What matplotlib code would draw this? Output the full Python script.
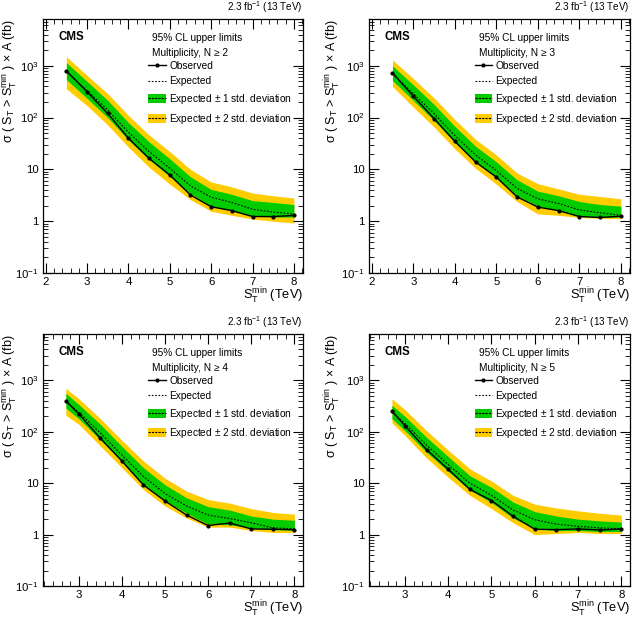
import matplotlib
matplotlib.use("Agg")
import matplotlib.pyplot as plt
import numpy as np
from matplotlib.ticker import FixedLocator, MultipleLocator, LogLocator, NullFormatter
from matplotlib.lines import Line2D
from matplotlib.patches import Patch

# ---------------- data ----------------
x_lo = [2.5, 3, 3.5, 4, 4.5, 5, 5.5, 6, 6.5, 7, 7.5, 8]
x_hi = [2.7, 3, 3.5, 4, 4.5, 5, 5.5, 6, 6.5, 7, 7.5, 8]

labels_n = ["Multiplicity, N ≥ 2", "Multiplicity, N ≥ 3",
            "Multiplicity, N ≥ 4", "Multiplicity, N ≥ 5"]

obs_n2 = [800, 315, 120, 40, 16.3, 7.8, 3.2, 1.9, 1.6, 1.23, 1.23, 1.29]
exp_n2 = [760, 330, 140, 52, 22, 10.5, 4.8, 2.9, 2.3, 1.7, 1.5, 1.37]
p1_n2 = [1150, 500, 215, 80, 34, 16, 7.2, 4.1, 3.3, 2.5, 2.3, 2.1]
m1_n2 = [540, 235, 100, 37, 15.5, 7.3, 3.4, 1.95, 1.6, 1.25, 1.2, 1.2]
p2_n2 = [1500, 650, 290, 110, 46, 22, 10, 5.7, 4.6, 3.5, 3.1, 2.8]
m2_n2 = [360, 170, 72, 27, 11, 5.2, 2.6, 1.55, 1.3, 1.1, 1.0, 0.92]

obs_n3 = [730, 260, 96, 35, 13.9, 7.1, 2.95, 1.87, 1.6, 1.23, 1.18, 1.25]
exp_n3 = [700, 290, 120, 45, 19, 9.5, 4.3, 2.7, 2.2, 1.65, 1.45, 1.3]
p1_n3 = [1000, 430, 180, 68, 28, 14, 6.3, 3.8, 3.1, 2.4, 2.1, 1.95]
m1_n3 = [520, 215, 88, 33, 14, 7, 3.1, 1.95, 1.6, 1.25, 1.18, 1.2]
p2_n3 = [1300, 570, 240, 92, 38, 19, 8.5, 5.3, 4.2, 3.3, 3.0, 2.7]
m2_n3 = [400, 160, 66, 25, 10.5, 5.2, 2.4, 1.38, 1.3, 1.18, 1.13, 1.12]

obs_n4 = [400, 223, 75, 27, 9.2, 4.5, 2.4, 1.5, 1.68, 1.29, 1.27, 1.25]
exp_n4 = [390, 240, 95, 35, 13.5, 6.3, 3.6, 2.4, 2.05, 1.7, 1.35, 1.3]
p1_n4 = [560, 340, 140, 52, 20, 9.3, 5.2, 3.5, 3.0, 2.3, 2.0, 1.9]
m1_n4 = [290, 180, 70, 26, 9.5, 4.6, 2.6, 1.6, 1.55, 1.35, 1.25, 1.2]
p2_n4 = [700, 440, 180, 68, 27, 12.5, 7, 4.8, 4.1, 3.2, 2.7, 2.5]
m2_n4 = [210, 140, 53, 20, 7.5, 3.6, 2.1, 1.4, 1.4, 1.2, 1.1, 1.1]

obs_n5 = [255, 131, 45, 18.7, 7.6, 4.6, 2.27, 1.27, 1.25, 1.29, 1.23, 1.28]
exp_n5 = [240, 145, 55, 23, 10, 5.8, 3.0, 1.95, 1.6, 1.45, 1.35, 1.3]
p1_n5 = [330, 200, 78, 33, 14, 8.3, 4.3, 2.8, 2.3, 2.0, 1.85, 1.75]
m1_n5 = [180, 105, 40, 17, 7.3, 4.2, 2.1, 1.3, 1.2, 1.2, 1.15, 1.15]
p2_n5 = [440, 270, 105, 44, 19, 11, 5.8, 3.9, 3.3, 2.9, 2.6, 2.4]
m2_n5 = [150, 85, 31, 13, 5.8, 3.2, 1.7, 1.0, 1.05, 1.1, 1.05, 1.05]

ytick_vals = [0.1, 1, 10, 100, 1000]
ytick_labels = ["$10^{-1}$", "1", "10", "$10^{2}$", "$10^{3}$"]

panels = [
    (x_lo, obs_n2, exp_n2, p1_n2, m1_n2, p2_n2, m2_n2, labels_n[0], (1.935, 8.22), [2, 3, 4, 5, 6, 7, 8]),
    (x_lo, obs_n3, exp_n3, p1_n3, m1_n3, p2_n3, m2_n3, labels_n[1], (1.935, 8.22), [2, 3, 4, 5, 6, 7, 8]),
    (x_hi, obs_n4, exp_n4, p1_n4, m1_n4, p2_n4, m2_n4, labels_n[2], (2.17, 8.2), [3, 4, 5, 6, 7, 8]),
    (x_hi, obs_n5, exp_n5, p1_n5, m1_n5, p2_n5, m2_n5, labels_n[3], (2.17, 8.2), [3, 4, 5, 6, 7, 8]),
]

# ---------------- figure ----------------
W, H = 639, 625
plt.rcParams['font.family'] = ['Liberation Sans', 'DejaVu Sans']
plt.rcParams['mathtext.fontset'] = 'custom'
plt.rcParams['mathtext.rm'] = 'Liberation Sans'
plt.rcParams['mathtext.it'] = 'Liberation Sans:italic'
fig = plt.figure(figsize=(W / 100, H / 100), dpi=100)

# axes rectangles in pixels: (left, top, right, bottom)
rects = [(43, 19, 303, 273), (369, 19, 630, 273), (43, 334, 303, 586), (369, 334, 630, 586)]
ylab_x = [-0.127, -0.138, -0.127, -0.138]

GREEN = '#00cc00'
YELLOW = '#ffcc00'

for (xs, obs, exp, p1, m1, p2, m2, mlabel, xlim, xt), (l, t, r, b), ylx in zip(panels, rects, ylab_x):
    ax = fig.add_axes([l / W, 1 - b / H, (r - l) / W, (b - t) / H])
    ax.fill_between(xs, m2, p2, color=YELLOW, lw=0)
    ax.fill_between(xs, m1, p1, color=GREEN, lw=0)
    ax.plot(xs, exp, color='black', ls=(0, (1.5, 1.5)), lw=0.8)
    ax.plot(xs, obs, color='black', lw=1.0, marker='o', ms=2)
    ax.set_yscale('log')
    ax.set_xlim(*xlim)
    ax.set_ylim(0.1, 8000)
    ax.yaxis.set_major_locator(FixedLocator(ytick_vals))
    ax.set_yticklabels(ytick_labels)
    ax.yaxis.set_minor_locator(LogLocator(base=10, subs=np.arange(2, 10), numticks=20))
    ax.yaxis.set_minor_formatter(NullFormatter())
    ax.xaxis.set_major_locator(FixedLocator(xt))
    ax.xaxis.set_minor_locator(MultipleLocator(0.2))
    ax.tick_params(which='both', direction='in', top=True, right=True, labelsize=8.2)
    ax.tick_params(which='major', length=7, width=0.8)
    ax.tick_params(which='minor', length=3.5, width=0.6)
    ax.tick_params(axis='x', which='major', pad=3)
    ax.tick_params(axis='y', which='major', pad=3)
    for s in ax.spines.values():
        s.set_linewidth(0.9)

    ax.set_xlabel("S$_{\\mathrm{T}}^{\\mathrm{min}}$ (TeV)", fontsize=9.2, loc='right')
    ax.xaxis.label.set_va('top')
    ax.xaxis.set_label_coords(1.0, -0.052)
    ax.set_ylabel("σ ( S$_{\\mathrm{T}}$ > S$_{\\mathrm{T}}^{\\mathrm{min}}$ ) × A (fb)", fontsize=9.0, loc='top')
    ax.yaxis.label.set_va('center')
    ax.yaxis.set_label_coords(ylx, 1.0)

    ax.text(1.0, 1.014, "2.3 fb$^{-1}$ (13 TeV)", transform=ax.transAxes, ha='right', va='bottom', fontsize=7.1)
    ax.text(0.058, 0.93, "CMS", transform=ax.transAxes, ha='left', va='center', fontsize=8.3, fontweight='bold')
    ax.text(0.42, 0.926, "95% CL upper limits", transform=ax.transAxes, ha='left', va='center', fontsize=7.3)
    ax.text(0.42, 0.865, mlabel, transform=ax.transAxes, ha='left', va='center', fontsize=7.3)

    h_obs = Line2D([], [], color='black', lw=1.0, marker='o', ms=2)
    h_exp = Line2D([], [], color='black', ls=(0, (1.5, 1.5)), lw=0.8)
    h_1 = (Patch(facecolor=GREEN, lw=0), Line2D([], [], color='black', ls=(0, (2, 1)), lw=0.8))
    h_2 = (Patch(facecolor=YELLOW, lw=0), Line2D([], [], color='black', ls=(0, (2, 1)), lw=0.8))
    leg = ax.legend([h_obs, h_exp, h_1, h_2],
                    ["Observed", "Expected", "Expected $\\pm$ 1 std. deviation", "Expected $\\pm$ 2 std. deviation"],
                    loc='upper left', bbox_to_anchor=(0.405, 0.835), frameon=False, fontsize=7.3,
                    handlelength=1.7, handleheight=0.95, handletextpad=0.35, labelspacing=0.55,
                    borderpad=0, borderaxespad=0)

fig.savefig("out.png", dpi=100)
